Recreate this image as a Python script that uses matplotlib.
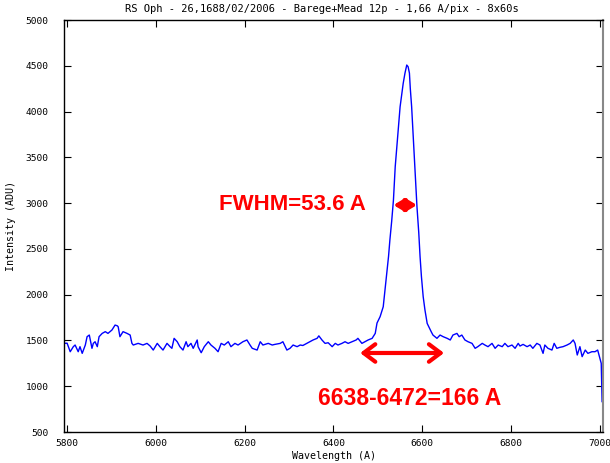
import matplotlib
matplotlib.use("Agg")
import matplotlib.pyplot as plt
from matplotlib import font_manager

wavelength = [5793, 5800, 5807, 5814, 5818, 5825, 5829, 5834, 5841, 5845, 5850, 5856, 5859, 5863,
              5868, 5872, 5879, 5886, 5892, 5901, 5908, 5913, 5915, 5919, 5926, 5935, 5942, 5946,
              5949, 5960, 5971, 5980, 5987, 5994, 6003, 6009, 6016, 6025, 6032, 6036, 6041, 6048,
              6054, 6061, 6068, 6072, 6079, 6084, 6093, 6095, 6102, 6109, 6118, 6124, 6133, 6140,
              6147, 6154, 6163, 6169, 6178, 6185, 6196, 6205, 6212, 6217, 6228, 6235, 6241, 6253,
              6262, 6268, 6280, 6286, 6295, 6302, 6309, 6318, 6325, 6331, 6340, 6347, 6354, 6363,
              6367, 6374, 6381, 6388, 6397, 6404, 6410, 6419, 6426, 6433, 6442, 6451, 6455, 6464,
              6471, 6478, 6487, 6494, 6498, 6505, 6512, 6516, 6520, 6524, 6527, 6531, 6535, 6539,
              6544, 6550, 6557, 6561, 6565, 6568, 6571, 6573, 6576, 6580, 6584, 6588, 6592, 6595,
              6598, 6602, 6606, 6611, 6620, 6624, 6633, 6640, 6647, 6656, 6663, 6669, 6678, 6683,
              6689, 6696, 6703, 6712, 6719, 6725, 6735, 6741, 6748, 6757, 6764, 6771, 6780, 6786,
              6793, 6802, 6809, 6816, 6820, 6827, 6836, 6843, 6849, 6858, 6865, 6872, 6876, 6883,
              6892, 6897, 6903, 6910, 6917, 6926, 6933, 6940, 6944, 6949, 6955, 6960, 6967, 6973,
              6982, 6989, 6995, 7003, 7005]
intensity = [1468, 1470, 1377, 1432, 1450, 1377, 1432, 1359, 1450, 1541, 1559, 1414, 1468, 1486,
             1432, 1541, 1577, 1596, 1577, 1614, 1668, 1660, 1650, 1541, 1596, 1577, 1559, 1468,
             1450, 1468, 1450, 1468, 1439, 1395, 1468, 1432, 1395, 1468, 1432, 1414, 1523, 1486,
             1432, 1395, 1486, 1432, 1468, 1414, 1505, 1432, 1366, 1432, 1486, 1450, 1414, 1377,
             1468, 1450, 1486, 1432, 1468, 1450, 1486, 1505, 1450, 1414, 1395, 1486, 1450, 1468,
             1450, 1457, 1468, 1486, 1395, 1414, 1450, 1432, 1450, 1445, 1468, 1486, 1505, 1523,
             1550, 1505, 1468, 1475, 1432, 1468, 1450, 1468, 1486, 1468, 1486, 1505, 1523, 1468,
             1486, 1505, 1523, 1577, 1690, 1760, 1868, 2051, 2236, 2420, 2597, 2800, 3033, 3397,
             3689, 4052, 4308, 4420, 4508, 4490, 4420, 4250, 4052, 3689, 3325, 2960, 2680, 2414,
             2200, 1978, 1832, 1686, 1596, 1559, 1523, 1559, 1541, 1523, 1505, 1559, 1577, 1541,
             1559, 1505, 1486, 1468, 1414, 1432, 1468, 1450, 1432, 1468, 1414, 1450, 1432, 1468,
             1432, 1450, 1414, 1468, 1439, 1457, 1432, 1450, 1414, 1468, 1450, 1359, 1450, 1414,
             1395, 1468, 1414, 1425, 1432, 1450, 1468, 1505, 1468, 1341, 1432, 1323, 1395, 1359,
             1377, 1377, 1395, 1250, 832]

x_ticks = [5800, 6000, 6200, 6400, 6600, 6800, 7000]
y_ticks = [500, 1000, 1500, 2000, 2500, 3000, 3500, 4000, 4500, 5000]

title = "RS Oph - 26,1688/02/2006 - Barege+Mead 12p - 1,66 A/pix - 8x60s"
fwhm_label = "FWHM=53.6 A"
base_label = "6638-6472=166 A"
fwhm_range = [6535, 6588]
base_range = [6460, 6649]

mono = "DejaVu Sans Mono"

bold_fp = None
for f in font_manager.findSystemFonts():
    name = f.replace("\\", "/").split("/")[-1].lower()
    if name == "liberationsans-bold.ttf":
        bold_fp = font_manager.FontProperties(fname=f)
        break
if bold_fp is None:
    bold_fp = font_manager.FontProperties(family="DejaVu Sans", weight="bold")

fig = plt.figure(figsize=(6.1, 4.63), dpi=100)
ax = fig.add_axes([64 / 610, 31 / 463, 539 / 610, 412 / 463])
ax.plot(wavelength, intensity, color=(0, 0, 1), lw=1.0)

ax.set_xlim(5793, 7007)
ax.set_ylim(500, 5000)
ax.set_xticks(x_ticks)
ax.set_yticks(y_ticks)
ax.tick_params(direction="in", length=5, width=0.8, top=True, right=True,
               labelsize=6.8)
ax.tick_params(axis="y", pad=11)
ax.tick_params(axis="x", pad=5)
for lab in ax.get_xticklabels() + ax.get_yticklabels():
    lab.set_family(mono)
for s in ["left", "bottom", "top"]:
    ax.spines[s].set_color("black")
    ax.spines[s].set_linewidth(1.0)
ax.spines["right"].set_color("#888888")
ax.spines["right"].set_linewidth(1.5)

ax.set_title(title, fontsize=7.5, family=mono, pad=6, x=0.478)
ax.set_xlabel("Wavelength (A)", fontsize=7.2, family=mono, labelpad=2.5)
ax.set_ylabel("Intensity (ADU)", fontsize=7.2, family=mono, labelpad=7)

fp1 = bold_fp.copy()
fp1.set_size(16)
fp2 = bold_fp.copy()
fp2.set_size(16.5)
ax.text(6307, 2985, fwhm_label, color=(1, 0, 0), fontproperties=fp1,
        ha="center", va="center")
ax.text(6572, 865, base_label, color=(1, 0, 0), fontproperties=fp2,
        ha="center", va="center")

ax.annotate("", xy=(fwhm_range[1], 2979), xytext=(fwhm_range[0], 2979),
            arrowprops=dict(arrowstyle="<|-|>,head_length=0.5,head_width=0.3",
                            color=(1, 0, 0), lw=3, shrinkA=0, shrinkB=0,
                            mutation_scale=12))
ax.annotate("", xy=(base_range[1], 1363), xytext=(base_range[0], 1363),
            arrowprops=dict(arrowstyle="<->,head_length=0.6,head_width=0.45",
                            color=(1, 0, 0), lw=3, shrinkA=0, shrinkB=0,
                            mutation_scale=14))

fig.savefig("out.png", dpi=100)
